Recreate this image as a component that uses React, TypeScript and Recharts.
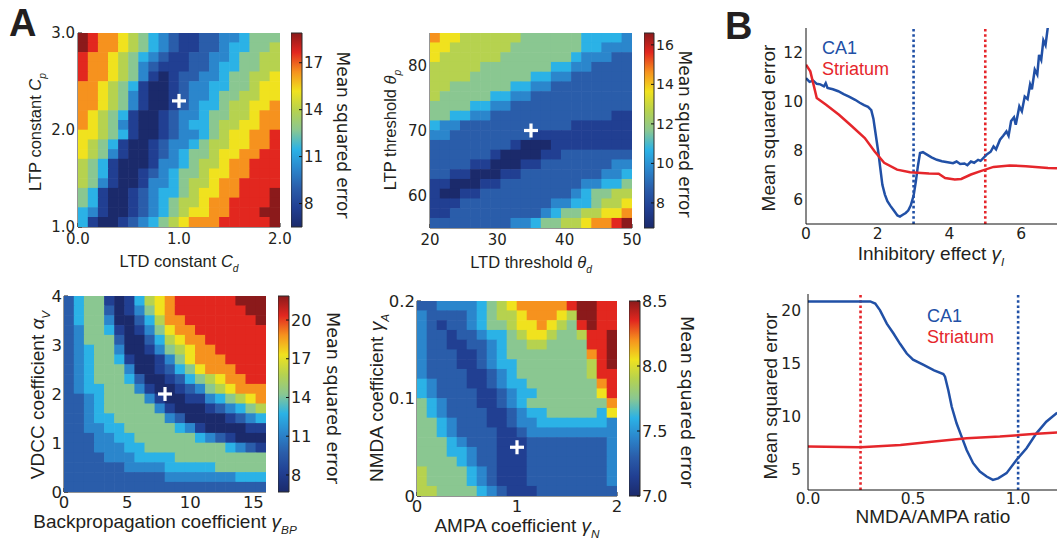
import React from 'react';
import {
  ScatterChart, Scatter, XAxis, YAxis, ComposedChart, ReferenceArea,
  LineChart, Line, ReferenceLine, Legend,
} from 'recharts';

const INK = '#231f20';
const TICK_FONT = '"DejaVu Sans", sans-serif';
const TITLE_FONT = '"Liberation Sans", Arial, sans-serif';
const LEVELS = '0123456789a';
const RAMP = ['#1b2a6b', '#213f92', '#2a5daa', '#2b86cc', '#2bb2e6', '#8ac791', '#b6d24f', '#f0e21e', '#f6921e', '#e2271f', '#8b1a1b'];

// ---------------- Panel A, heatmap 1: LTP constant vs LTD constant ----------------
const cdCpGrid = [
  'a9887654321122334555',
  'a9887654321122344556',
  '98876543211223345566',
  '98876532111223445566',
  '98876531012233455667',
  '88765410012334455677',
  '88765310012334556677',
  '88765310012344566778',
  '87654100123345566788',
  '87653100123445667788',
  '77654100123345677889',
  '76541001233456677889',
  '76531001234556778899',
  '65410001334566788999',
  '65410012345567788999',
  '65310013345667889999',
  '5410012344567788999a',
  '5410012345667889999a',
  '431001234567788999aa',
  '4100123456788899999a',
];
const cdDomain: [number, number] = [0, 2];
const cpDomain: [number, number] = [1, 3];
const cdCpRange: [number, number] = [6.5, 18.9];
const cdTicks = [0, 1, 2];
const cpTicks = [1, 2, 3];
const cdCpBest = [{ x: 1.0, y: 2.3 }];
const cdCpBarTicks = [8, 11, 14, 17];

// ---------------- heatmap 2: LTP threshold vs LTD threshold ----------------
const thetaGrid = [
  '87766666655555544443',
  '77666666555555544333',
  '76666665555555433322',
  '66666555555544332222',
  '66665555554433222222',
  '66555555443322222222',
  '65555544332222222222',
  '55554433222222222222',
  '55443322222222222211',
  '43322222222222111111',
  '33222222221111111111',
  '22222222100011111111',
  '22222210000112222222',
  '22221100011222222233',
  '22110001122222222334',
  '11000112222222233445',
  '10011222222222345566',
  '11122222222233445667',
  '11222222222345566778',
  '2222222233455667889a',
];
const thetaDDomain: [number, number] = [20, 50];
const thetaPDomain: [number, number] = [55, 85];
const thetaRange: [number, number] = [6.73, 16.6];
const thetaDTicks = [20, 30, 40, 50];
const thetaPTicks = [60, 70, 80];
const thetaBest = [{ x: 35, y: 70 }];
const thetaBarTicks = [8, 10, 12, 14, 16];

// ---------------- heatmap 3: VDCC coefficient vs backpropagation coefficient ----------------
const vdccGrid = [
  '24551014678999999aaa',
  '245520135789999999aa',
  '2455300246889999999a',
  '23554101357889999999',
  '23555200246788999999',
  '23455300135678899999',
  '23455410013578889999',
  '23455530012457888999',
  '23455542001245678899',
  '23445553100123567888',
  '22345555310011345678',
  '22345555531000123456',
  '22344555553200001234',
  '22334455555431000011',
  '22233445555554321000',
  '22233344555555554321',
  '22223334444555555555',
  '22222233334444455555',
  '22222222223333333444',
  '22222222222222222222',
];
const bpDomain: [number, number] = [0, 16];
const alphaDomain: [number, number] = [0, 4];
const vdccRange: [number, number] = [6.68, 21.86];
const bpTicks = [0, 5, 10, 15];
const alphaTicks = [0, 1, 2, 3, 4];
const vdccBest = [{ x: 8, y: 2 }];
const vdccBarTicks = [8, 11, 14, 17, 20];

// ---------------- heatmap 4: NMDA coefficient vs AMPA coefficient ----------------
const nmdaGrid = [
  '2233334567888889aa99',
  '3222234566788876aa99',
  '32122345567787659a99',
  '3221223445677655699a',
  '3221122345566555599a',
  '3222112345555555589a',
  '3222112344555555569a',
  '32222112345555555699',
  '43222112344555555589',
  '43222211234455555579',
  '54322211234555555558',
  '54322221123445555547',
  '55432221123344444443',
  '55432222112333333333',
  '55543222111222222223',
  '55544322111222222223',
  '55554322111222222223',
  '65555432111222222223',
  '65555432111222222223',
  '66555543211122222222',
];
const ampaDomain: [number, number] = [0, 2];
const nmdaDomain: [number, number] = [0, 0.2];
const nmdaRange: [number, number] = [7.0, 8.5];
const ampaTicks = [0, 1, 2];
const nmdaTicks = [0, 0.1, 0.2];
const nmdaBest = [{ x: 1.0, y: 0.05 }];
const nmdaBarTicks = [7.0, 7.5, 8.0, 8.5];

// ---------------- Panel B, top: inhibitory effect ----------------
const inhibX_CA1 = [0, 0.1, 0.2, 0.3, 0.4, 0.5, 0.55, 0.6, 0.75, 0.9, 1.05, 1.2, 1.37, 1.5, 1.62, 1.73, 1.82, 1.88, 1.92, 1.97, 2.02, 2.07, 2.13, 2.2, 2.27, 2.35, 2.45, 2.55, 2.62, 2.7, 2.78, 2.85, 2.92, 3.0, 3.06, 3.12, 3.18, 3.26, 3.35, 3.5, 3.65, 3.79, 3.95, 4.1, 4.2, 4.3, 4.42, 4.5, 4.6, 4.69, 4.8, 4.87, 4.95, 5.05, 5.15, 5.23, 5.3, 5.41, 5.5, 5.59, 5.65, 5.72, 5.8, 5.85, 5.95, 6.02, 6.1, 6.18, 6.25, 6.3, 6.38, 6.45, 6.5, 6.56, 6.62, 6.68, 6.75];
const inhibY_CA1 = [10.95, 10.8, 10.85, 10.72, 10.7, 10.62, 10.75, 10.55, 10.5, 10.42, 10.3, 10.2, 10.07, 9.95, 9.85, 9.78, 9.65, 9.3, 8.9, 8.4, 7.9, 7.3, 6.6, 6.2, 5.93, 5.75, 5.55, 5.35, 5.3, 5.38, 5.45, 5.55, 5.75, 6.15, 6.7, 7.36, 7.9, 7.93, 7.85, 7.72, 7.62, 7.56, 7.52, 7.48, 7.55, 7.45, 7.47, 7.4, 7.55, 7.5, 7.62, 7.58, 7.7, 7.85, 7.95, 8.17, 8.05, 8.44, 8.6, 8.78, 8.6, 9.2, 9.35, 9.05, 9.8, 9.6, 10.2, 10.1, 10.7, 10.5, 11.3, 11.1, 11.9, 11.7, 12.5, 12.3, 13.1];
const inhibX_Str = [0, 0.12, 0.2, 0.3, 0.56, 0.92, 1.28, 1.64, 1.91, 2.18, 2.54, 2.9, 3.43, 3.7, 3.88, 4.15, 4.33, 4.6, 4.87, 5.23, 5.68, 6.13, 6.75, 7.0];
const inhibY_Str = [11.5, 11.23, 10.75, 10.14, 9.87, 9.46, 8.99, 8.51, 7.97, 7.5, 7.22, 7.11, 7.06, 7.05, 6.88, 6.82, 6.84, 7.02, 7.16, 7.33, 7.39, 7.36, 7.29, 7.28];
const inhibDomainX: [number, number] = [0, 7];
const inhibDomainY: [number, number] = [5, 13];
const inhibTicksX = [0, 2, 4, 6];
const inhibTicksY = [6, 8, 10, 12];
const inhibOptCA1 = 3;
const inhibOptStr = 5;

// ---------------- Panel B, bottom: NMDA/AMPA ratio ----------------
const ratioX_CA1 = [0, 0.296, 0.32, 0.343, 0.375, 0.407, 0.438, 0.47, 0.5, 0.55, 0.6, 0.644, 0.652, 0.668, 0.684, 0.707, 0.731, 0.755, 0.786, 0.818, 0.85, 0.88, 0.905, 0.945, 0.992, 1.04, 1.087, 1.134, 1.186];
const ratioY_CA1 = [20.9, 20.9, 20.7, 20.06, 18.8, 17.87, 16.9, 15.98, 15.4, 14.9, 14.4, 14.04, 13.8, 12.5, 10.96, 9.4, 8.14, 6.88, 5.63, 4.84, 4.37, 4.06, 4.2, 4.69, 5.94, 7.04, 8.45, 9.55, 10.4];
const ratioX_Str = [0, 0.25, 0.44, 0.6, 0.755, 0.913, 1.07, 1.186];
const ratioY_Str = [7.2, 7.13, 7.35, 7.67, 7.98, 8.14, 8.39, 8.52];
const ratioDomainX: [number, number] = [0, 1.185];
const ratioDomainY: [number, number] = [3.1, 21.6];
const ratioTicksX = [0, 0.5, 1.0];
const ratioTicksY = [5, 10, 15, 20];
const ratioOptCA1 = 1.0;
const ratioOptStr = 0.25;

// ---------------- helpers ----------------
function hexToRgb(h: string) {
  return [parseInt(h.slice(1, 3), 16), parseInt(h.slice(3, 5), 16), parseInt(h.slice(5, 7), 16)];
}
function rampColor(t: number) {
  const tt = Math.max(0, Math.min(1, t)) * (RAMP.length - 1);
  const i = Math.min(RAMP.length - 2, Math.floor(tt));
  const f = tt - i;
  const a = hexToRgb(RAMP[i]);
  const b = hexToRgb(RAMP[i + 1]);
  const c = a.map((v, k) => Math.round(v + (b[k] - v) * f));
  return `rgb(${c[0]},${c[1]},${c[2]})`;
}
function buildCells(grid: string[], xd: [number, number], yd: [number, number], range: [number, number]) {
  const rows = grid.length;
  const cols = grid[0].length;
  const dx = (xd[1] - xd[0]) / cols;
  const dy = (yd[1] - yd[0]) / rows;
  const out: { x: number; y: number; v: number }[] = [];
  grid.forEach((row, r) => {
    row.split('').forEach((ch, c) => {
      const lvl = LEVELS.indexOf(ch);
      out.push({ x: xd[0] + (c + 0.5) * dx, y: yd[1] - (r + 0.5) * dy, v: range[0] + (lvl / 10) * (range[1] - range[0]) });
    });
  });
  return out;
}
function zip(xs: number[], ys: number[]) {
  return xs.map((x, i) => ({ x, y: ys[i] }));
}

type Title = { x: number; y: number; size: number; rotate?: number; family?: string; text: string; sym?: string; sub?: string };

function TitleText({ t, ox, oy }: { t: Title; ox: number; oy: number }) {
  const x = t.x - ox;
  const y = t.y - oy;
  return (
    <text x={x} y={y} textAnchor="middle" fontSize={t.size} fontFamily={t.family ?? TITLE_FONT} fill={INK}
      transform={t.rotate ? `rotate(${t.rotate} ${x} ${y})` : undefined}>
      <tspan>{t.text}</tspan>
      {t.sym ? <tspan fontStyle="italic">{t.sym}</tspan> : null}
      {t.sub ? <tspan fontStyle="italic" fontSize={t.size * 0.62} dy={t.size * 0.32}>{t.sub}</tspan> : null}
    </text>
  );
}

const plusShape = (p: any) => (
  <g>
    <rect x={p.cx - 7} y={p.cy - 1.6} width={14} height={3.2} fill="#ffffff" />
    <rect x={p.cx - 1.6} y={p.cy - 7} width={3.2} height={14} fill="#ffffff" />
  </g>
);

type Rect = { L: number; T: number; R: number; B: number };

type HeatProps = {
  grid: string[]; xDomain: [number, number]; yDomain: [number, number]; range: [number, number];
  xTicks: number[]; yTicks: number[]; xFmt: (v: number) => string; yFmt: (v: number) => string;
  best: { x: number; y: number }[]; plot: Rect; tickFont: number; xTickMargin: number; yTickMargin: number;
  xTitle: Title; yTitle: Title;
};

function Heatmap(p: HeatProps) {
  const yAxisW = 72, xAxisH = 52, mt = 16, mr = 44;
  const left = p.plot.L - yAxisW;
  const top = p.plot.T - mt;
  const pw = p.plot.R - p.plot.L;
  const ph = p.plot.B - p.plot.T;
  const width = yAxisW + pw + mr;
  const height = mt + ph + xAxisH;
  const cw = pw / p.grid[0].length;
  const chh = ph / p.grid.length;
  const cells = buildCells(p.grid, p.xDomain, p.yDomain, p.range);
  const tickStyle = { fontSize: p.tickFont, fontFamily: TICK_FONT, fill: INK };
  const frame = { stroke: '#2a2a2a', strokeWidth: 1 };
  const tl = { stroke: '#111', strokeWidth: 1 };
  const cellShape = (s: any) => (
    <rect x={s.cx - cw / 2 - 0.3} y={s.cy - chh / 2 - 0.3} width={cw + 0.6} height={chh + 0.6}
      fill={rampColor((s.payload.v - p.range[0]) / (p.range[1] - p.range[0]))} />
  );
  return (
    <div style={{ position: 'absolute', left, top, width, height }}>
      <ScatterChart width={width} height={height} margin={{ top: mt, right: mr, bottom: 0, left: 0 }}>
        <XAxis xAxisId="b" type="number" dataKey="x" domain={p.xDomain} ticks={p.xTicks} tickFormatter={p.xFmt}
          allowDataOverflow interval={0} height={xAxisH} tickSize={-4} tickMargin={p.xTickMargin} tick={tickStyle}
          axisLine={frame} tickLine={tl}
          label={{ content: () => <TitleText t={p.xTitle} ox={left} oy={top} /> }} />
        <XAxis xAxisId="t" orientation="top" type="number" dataKey="x" domain={p.xDomain} ticks={p.xTicks}
          allowDataOverflow interval={0} height={0} tickSize={-4} tick={false} axisLine={frame} tickLine={tl} />
        <YAxis yAxisId="l" type="number" dataKey="y" domain={p.yDomain} ticks={p.yTicks} tickFormatter={p.yFmt}
          allowDataOverflow interval={0} width={yAxisW} tickSize={-4} tickMargin={p.yTickMargin} tick={tickStyle}
          axisLine={frame} tickLine={tl}
          label={{ content: () => <TitleText t={p.yTitle} ox={left} oy={top} /> }} />
        <YAxis yAxisId="r" orientation="right" type="number" dataKey="y" domain={p.yDomain} ticks={p.yTicks}
          allowDataOverflow interval={0} width={0} tickSize={-4} tick={false} axisLine={frame} tickLine={tl} />
        <Scatter xAxisId="b" yAxisId="l" data={cells} shape={cellShape} isAnimationActive={false} />
        <Scatter xAxisId="t" yAxisId="r" data={p.best} shape={plusShape} isAnimationActive={false} />
      </ScatterChart>
    </div>
  );
}

type BarProps = { rect: Rect; range: [number, number]; ticks: number[]; fmt: (v: number) => string; title: Title; id: string; tickFont: number };

function ColorBar(p: BarProps) {
  const axisW = 80, mt = 12, mb = 12;
  const left = p.rect.L;
  const top = p.rect.T - mt;
  const bw = p.rect.R - p.rect.L;
  const bh = p.rect.B - p.rect.T;
  const width = bw + axisW;
  const height = bh + mt + mb;
  return (
    <div style={{ position: 'absolute', left, top, width, height }}>
      <ComposedChart width={width} height={height} margin={{ top: mt, right: 0, bottom: mb, left: 0 }}>
        <defs>
          <linearGradient id={p.id} x1="0" y1="1" x2="0" y2="0">
            {RAMP.map((c, i) => <stop key={i} offset={`${i * 10}%`} stopColor={c} />)}
          </linearGradient>
        </defs>
        <XAxis type="number" dataKey="x" domain={[0, 1]} hide allowDataOverflow height={0} />
        <YAxis type="number" orientation="right" domain={p.range} ticks={p.ticks} tickFormatter={p.fmt}
          allowDataOverflow interval={0} width={axisW} tickSize={-3} tickMargin={5} axisLine={false}
          tickLine={{ stroke: '#111' }} tick={{ fontSize: p.tickFont, fontFamily: TICK_FONT, fill: INK }}
          label={{ content: () => <TitleText t={p.title} ox={left} oy={top} /> }} />
        <ReferenceArea x1={0} x2={1} y1={p.range[0]} y2={p.range[1]} fill={`url(#${p.id})`} fillOpacity={1}
          stroke="#2a2a2a" strokeWidth={1} />
      </ComposedChart>
    </div>
  );
}

const legendContent = (props: any) => (
  <div style={{ fontFamily: TITLE_FONT, fontSize: 18, lineHeight: '21px' }}>
    {(props.payload || []).map((e: any) => (
      <div key={e.value} style={{ color: e.color }}>{e.value}</div>
    ))}
  </div>
);

type LineProps = {
  left: number; top: number; plot: Rect; ca1: { x: number; y: number }[]; str: { x: number; y: number }[];
  xDomain: [number, number]; yDomain: [number, number]; xTicks: number[]; yTicks: number[];
  xFmt: (v: number) => string; optCA1: number; optStr: number; xTitle: Title; yTitle: Title;
  legendLeft: number; legendTop: number; yTickMargin: number; xTickMargin: number;
};

const BLUE = '#2150a6';
const RED = '#e5262b';

function LinePanel(p: LineProps) {
  const yAxisW = p.plot.L - p.left;
  const mt = p.plot.T - p.top;
  const xAxisH = 48;
  const width = p.plot.R - p.left;
  const height = mt + (p.plot.B - p.plot.T) + xAxisH;
  const tickStyle = { fontSize: 15.5, fontFamily: TICK_FONT, fill: INK };
  return (
    <div style={{ position: 'absolute', left: p.left, top: p.top, width, height }}>
      <LineChart width={width} height={height} margin={{ top: mt, right: 0, bottom: 0, left: 0 }}>
        <XAxis type="number" dataKey="x" domain={p.xDomain} ticks={p.xTicks} tickFormatter={p.xFmt}
          allowDataOverflow interval={0} height={xAxisH} tickSize={0} tickLine={false} tickMargin={p.xTickMargin}
          axisLine={{ stroke: '#111', strokeWidth: 1 }} tick={tickStyle}
          label={{ content: () => <TitleText t={p.xTitle} ox={p.left} oy={p.top} /> }} />
        <YAxis type="number" domain={p.yDomain} ticks={p.yTicks} allowDataOverflow interval={0} width={yAxisW}
          tickSize={0} tickLine={false} tickMargin={p.yTickMargin} axisLine={{ stroke: '#111', strokeWidth: 1 }} tick={tickStyle}
          label={{ content: () => <TitleText t={p.yTitle} ox={p.left} oy={p.top} /> }} />
        <ReferenceLine x={p.optCA1} stroke={BLUE} strokeWidth={2.6} strokeDasharray="2.6 2.6" />
        <ReferenceLine x={p.optStr} stroke={RED} strokeWidth={2.6} strokeDasharray="2.6 2.6" />
        <Line data={p.ca1} dataKey="y" name="CA1" stroke={BLUE} strokeWidth={2.5} dot={false} activeDot={false}
          type="linear" isAnimationActive={false} />
        <Line data={p.str} dataKey="y" name="Striatum" stroke={RED} strokeWidth={2.5} dot={false} activeDot={false}
          type="linear" isAnimationActive={false} />
        <Legend layout="horizontal" verticalAlign="middle" align="center" content={legendContent}
          wrapperStyle={{ position: 'absolute', left: p.legendLeft - p.left, top: p.legendTop - p.top, width: 120, height: 44 }} />
      </LineChart>
    </div>
  );
}

const f1 = (v: number) => v.toFixed(1);
const f0 = (v: number) => String(v);
const fNmda = (v: number) => (v === 0 ? '0' : v.toFixed(1));

export default function App() {
  return (
    <div style={{ position: 'fixed', left: 0, top: 0, width: 1057, height: 547, overflow: 'hidden', background: '#ffffff' }}>
      <svg width={1057} height={547} style={{ position: 'absolute', left: 0, top: 0 }}>
        <text x={9} y={36} fontSize={38} fontWeight="bold" fontFamily={TITLE_FONT} fill={INK}>A</text>
        <text x={725} y={39} fontSize={38} fontWeight="bold" fontFamily={TITLE_FONT} fill={INK}>B</text>
      </svg>

      <Heatmap grid={cdCpGrid} xDomain={cdDomain} yDomain={cpDomain} range={cdCpRange} xTicks={cdTicks} yTicks={cpTicks}
        xFmt={f1} yFmt={f1} best={cdCpBest} plot={{ L: 78, T: 33, R: 280, B: 227 }} tickFont={15} xTickMargin={10} yTickMargin={7}
        xTitle={{ x: 179, y: 267, size: 16.5, text: 'LTD constant ', sym: 'C', sub: 'd' }}
        yTitle={{ x: 41, y: 132, size: 16.5, rotate: -90, text: 'LTP constant ', sym: 'C', sub: 'p' }} />
      <ColorBar rect={{ L: 291, T: 33, R: 302, B: 227 }} range={cdCpRange} ticks={cdCpBarTicks} fmt={f0} id="cb1" tickFont={15}
        title={{ x: 337, y: 135, size: 17, rotate: 90, family: TICK_FONT, text: 'Mean squared error' }} />

      <Heatmap grid={thetaGrid} xDomain={thetaDDomain} yDomain={thetaPDomain} range={thetaRange} xTicks={thetaDTicks} yTicks={thetaPTicks}
        xFmt={f0} yFmt={f0} best={thetaBest} plot={{ L: 430, T: 33, R: 632, B: 228 }} tickFont={15} xTickMargin={10} yTickMargin={7}
        xTitle={{ x: 531, y: 268, size: 16.5, text: 'LTD threshold ', sym: 'θ', sub: 'd' }}
        yTitle={{ x: 396, y: 130, size: 16.5, rotate: -90, text: 'LTP threshold ', sym: 'θ', sub: 'p' }} />
      <ColorBar rect={{ L: 644, T: 33, R: 654, B: 228 }} range={thetaRange} ticks={thetaBarTicks} fmt={f0} id="cb2" tickFont={14}
        title={{ x: 679, y: 134, size: 17, rotate: 90, family: TICK_FONT, text: 'Mean squared error' }} />

      <Heatmap grid={vdccGrid} xDomain={bpDomain} yDomain={alphaDomain} range={vdccRange} xTicks={bpTicks} yTicks={alphaTicks}
        xFmt={f0} yFmt={f0} best={vdccBest} plot={{ L: 64, T: 296, R: 266, B: 492 }} tickFont={16.5} xTickMargin={8} yTickMargin={6}
        xTitle={{ x: 165, y: 528, size: 19, text: 'Backpropagation coefficient ', sym: 'γ', sub: 'BP' }}
        yTitle={{ x: 44, y: 395, size: 19, rotate: -90, text: 'VDCC coefficient ', sym: 'α', sub: 'V' }} />
      <ColorBar rect={{ L: 278, T: 296, R: 289, B: 492 }} range={vdccRange} ticks={vdccBarTicks} fmt={f0} id="cb3" tickFont={16}
        title={{ x: 327, y: 398, size: 17.5, rotate: 90, family: TICK_FONT, text: 'Mean squared error' }} />

      <Heatmap grid={nmdaGrid} xDomain={ampaDomain} yDomain={nmdaDomain} range={nmdaRange} xTicks={ampaTicks} yTicks={nmdaTicks}
        xFmt={f0} yFmt={fNmda} best={nmdaBest} plot={{ L: 417, T: 301, R: 617, B: 496 }} tickFont={16.5} xTickMargin={8} yTickMargin={6}
        xTitle={{ x: 517, y: 532, size: 19, text: 'AMPA coefficient ', sym: 'γ', sub: 'N' }}
        yTitle={{ x: 383, y: 398, size: 19, rotate: -90, text: 'NMDA coefficient ', sym: 'γ', sub: 'A' }} />
      <ColorBar rect={{ L: 629, T: 301, R: 640, B: 496 }} range={nmdaRange} ticks={nmdaBarTicks} fmt={f1} id="cb4" tickFont={16}
        title={{ x: 681, y: 402, size: 17.5, rotate: 90, family: TICK_FONT, text: 'Mean squared error' }} />

      <LinePanel left={730} top={20} plot={{ L: 806, T: 28, R: 1057, B: 224 }} ca1={zip(inhibX_CA1, inhibY_CA1)} str={zip(inhibX_Str, inhibY_Str)}
        xDomain={inhibDomainX} yDomain={inhibDomainY} xTicks={inhibTicksX} yTicks={inhibTicksY} xFmt={f0}
        optCA1={inhibOptCA1} optStr={inhibOptStr} yTickMargin={3} xTickMargin={4}
        xTitle={{ x: 931, y: 260, size: 19, text: 'Inhibitory effect ', sym: 'γ', sub: 'I' }}
        yTitle={{ x: 775, y: 128, size: 19, rotate: -90, text: 'Mean squared error' }}
        legendLeft={822} legendTop={38} />

      <LinePanel left={730} top={286} plot={{ L: 808, T: 294, R: 1057, B: 490 }} ca1={zip(ratioX_CA1, ratioY_CA1)} str={zip(ratioX_Str, ratioY_Str)}
        xDomain={ratioDomainX} yDomain={ratioDomainY} xTicks={ratioTicksX} yTicks={ratioTicksY} xFmt={f1}
        optCA1={ratioOptCA1} optStr={ratioOptStr} yTickMargin={7} xTickMargin={3}
        xTitle={{ x: 933, y: 523, size: 19, text: 'NMDA/AMPA ratio' }}
        yTitle={{ x: 777, y: 396, size: 19, rotate: -90, text: 'Mean squared error' }}
        legendLeft={927} legendTop={306} />
    </div>
  );
}
